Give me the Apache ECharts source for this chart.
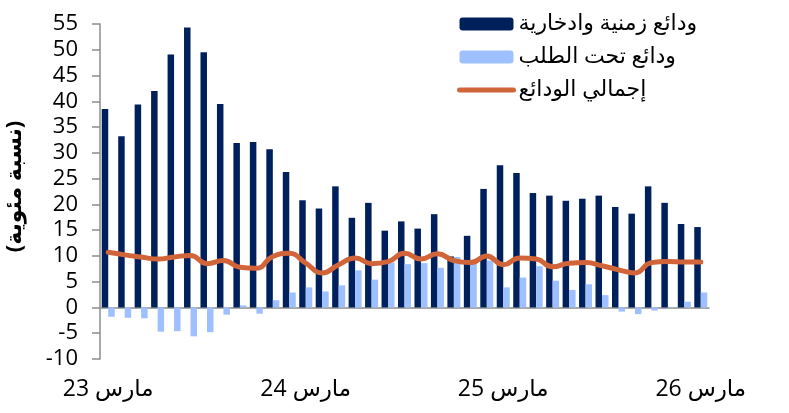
<!DOCTYPE html>
<html>
<head>
<meta charset="utf-8">
<script src="https://cdn.jsdelivr.net/npm/echarts@6/dist/echarts.min.js"></script>
<style>
  html, body { margin: 0; padding: 0; background: #fff; }
  #chart { width: 789px; height: 413px; }
</style>
</head>
<body>
<div id="chart"></div>
<script>
// monthly, March 2023 .. March 2026
var months = [];
for (var y = 23; y <= 26; y++) {
  var names = ['مارس', 'أبريل', 'مايو', 'يونيو', 'يوليو', 'أغسطس', 'سبتمبر', 'أكتوبر', 'نوفمبر', 'ديسمبر', 'يناير', 'فبراير'];
  for (var m = 0; m < 12; m++) {
    if (y === 26 && m > 0) break;
    months.push(names[m] + ' ' + (m >= 10 ? y + 1 : y));
  }
}

var timeDeposits = [38.5, 33.2, 39.4, 42.0, 49.1, 54.3, 49.5, 39.5, 31.9, 32.1, 30.7, 26.3,
  20.8, 19.2, 23.5, 17.4, 20.3, 14.9, 16.7, 15.3, 18.1, 9.9, 13.9, 23.0,
  27.6, 26.1, 22.2, 21.7, 20.7, 21.1, 21.7, 19.5, 18.2, 23.5, 20.3, 16.2, 15.6];
var demandDeposits = [-1.8, -2.0, -2.1, -4.7, -4.6, -5.6, -4.8, -1.4, 0.4, -1.2, 1.4, 2.9,
  3.9, 3.1, 4.3, 7.2, 5.4, 8.7, 8.4, 8.6, 7.7, 9.8, 9.0, 9.1,
  3.9, 5.8, 8.0, 5.2, 3.4, 4.5, 2.4, -0.8, -1.3, -0.6, 0.1, 1.1, 2.9];
var totalDeposits = [10.7, 10.2, 9.8, 9.4, 9.8, 10.1, 8.5, 9.1, 7.8, 7.6, 9.9, 10.5,
  8.6, 6.7, 8.3, 9.6, 8.5, 8.9, 10.5, 9.4, 10.4, 9.1, 8.7, 10.0,
  8.3, 9.6, 9.4, 7.9, 8.6, 8.7, 8.1, 7.3, 6.7, 8.7, 8.9, 8.8, 8.8];

var seriesNames = ['ودائع زمنية وادخارية', 'ودائع تحت الطلب', 'إجمالي الودائع'];

var font = 'Open Sans, DejaVu Sans, sans-serif';
var axisColor = '#8c8c8c';

var chart = echarts.init(document.getElementById('chart'));
chart.setOption({
  animation: false,
  textStyle: { fontFamily: font },
  grid: { left: 100, right: 80, top: 24, bottom: 54, outerBoundsMode: 'none' },
  legend: {
    orient: 'vertical',
    left: 452,
    top: 8,
    itemWidth: 54,
    itemHeight: 13,
    itemGap: 11,
    textStyle: { fontSize: 22, color: '#000', fontFamily: font },
    data: [
      { name: seriesNames[0] },
      { name: seriesNames[1] },
      { name: seriesNames[2], itemStyle: { opacity: 0 }, lineStyle: { width: 5, cap: 'round' } }
    ]
  },
  xAxis: [
    {
      // zero line with year ticks
      type: 'category',
      data: months,
      axisLine: { onZero: true, lineStyle: { color: axisColor, width: 1.5 } },
      axisTick: { interval: 11, length: 8, lineStyle: { color: axisColor, width: 1.5 } },
      axisLabel: { show: false }
    },
    {
      // year labels under the plot
      type: 'category',
      position: 'bottom',
      data: months,
      axisLine: { show: false, onZero: false },
      axisTick: { show: false },
      axisLabel: { interval: 11, margin: 19, fontSize: 23, color: '#000' }
    }
  ],
  yAxis: {
    type: 'value',
    min: -10,
    max: 55,
    interval: 5,
    name: '(نسبة مئوية)',
    nameLocation: 'middle',
    nameRotate: 90,
    nameGap: 74,
    nameTextStyle: { fontSize: 22, fontWeight: 'bold', color: '#000', padding: [0, 0, 0, 10] },
    splitLine: { show: false },
    axisLine: { show: true, lineStyle: { color: axisColor, width: 1.5 } },
    axisTick: { show: true, length: 8, lineStyle: { color: axisColor, width: 1.5 } },
    axisLabel: { margin: 22, fontSize: 22, color: '#000' }
  },
  series: [
    {
      name: seriesNames[0],
      type: 'bar',
      data: timeDeposits,
      barWidth: 6.5,
      barGap: '0%',
      itemStyle: { color: '#00205b' }
    },
    {
      name: seriesNames[1],
      type: 'bar',
      data: demandDeposits,
      barWidth: 6.5,
      barGap: '0%',
      itemStyle: { color: '#9ec0ff' }
    },
    {
      name: seriesNames[2],
      type: 'line',
      data: totalDeposits,
      smooth: true,
      symbol: 'none',
      lineStyle: { color: '#d2643a', width: 5, cap: 'round' },
      itemStyle: { color: '#d2643a' }
    }
  ]
});
</script>
</body>
</html>
